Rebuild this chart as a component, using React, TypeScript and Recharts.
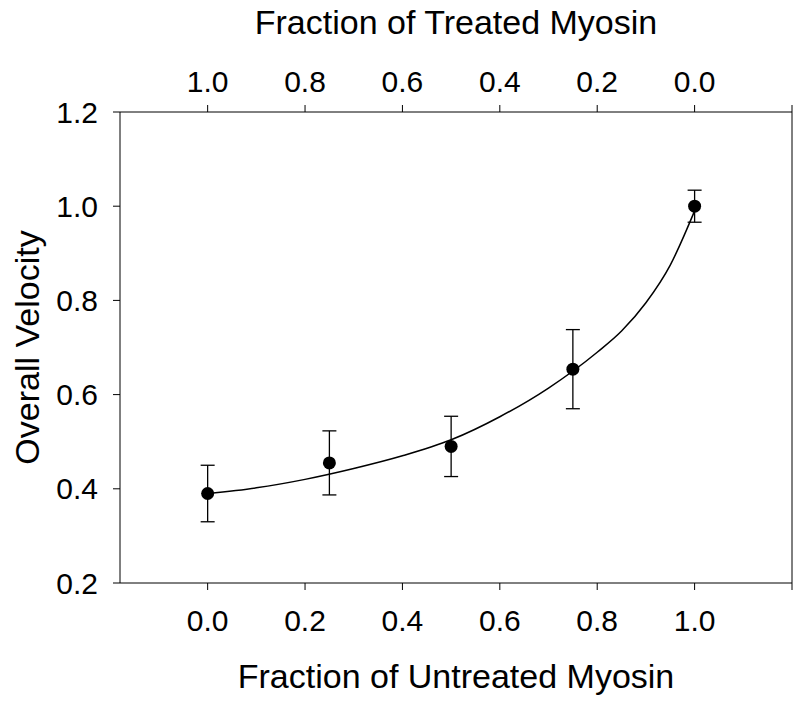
import React from 'react';
import { ComposedChart, XAxis, YAxis, Line, Scatter, ErrorBar, ReferenceLine, Label } from 'recharts';

// measured points
const untreatedFraction = [0, 0.25, 0.5, 0.75, 1.0];
const overallVelocity = [0.39, 0.455, 0.49, 0.654, 1.0];
const velocityError = [0.06, 0.068, 0.064, 0.084, 0.034];

// fitted curve
const fitFraction = [0, 0.1, 0.2, 0.3, 0.4, 0.5, 0.6, 0.7, 0.8, 0.85, 0.9, 0.95, 1.0];
const fitVelocity = [0.39, 0.402, 0.42, 0.443, 0.47, 0.504, 0.553, 0.614, 0.69, 0.735, 0.795, 0.875, 0.99];

const xTicks = [0, 0.2, 0.4, 0.6, 0.8, 1.0, 1.2];
const yTicks = [0.2, 0.4, 0.6, 0.8, 1.0, 1.2];

const points = untreatedFraction.map((x, i) => ({ x, v: overallVelocity[i], err: velocityError[i] }));
const fit = fitFraction.map((x, i) => ({ x, v: fitVelocity[i] }));

const FONT = '"Liberation Sans", Arial, sans-serif';
const tickStyle = { fontSize: 30, fill: '#000', fontFamily: FONT };
const titleStyle = { fontSize: 34, fill: '#000', fontFamily: FONT };

const bottomFmt = (v: number) => (v > 1.1 ? '' : v.toFixed(1));
const topFmt = (v: number) => (v > 1.1 ? '' : Math.abs(1 - v).toFixed(1));

export default function App() {
  return (
    <div style={{ position: 'absolute', left: 0, top: 0, background: '#fff' }}>
      <ComposedChart width={800} height={701} margin={{ top: 8, right: 8, bottom: 8, left: 8 }}>
        <XAxis
          type="number"
          dataKey="x"
          domain={[-0.18, 1.2]}
          ticks={xTicks}
          tickFormatter={bottomFmt}
          allowDataOverflow
          height={110}
          tickSize={7}
          tickMargin={20}
          stroke="#000"
          tick={tickStyle}
        >
          <Label value="Fraction of Untreated Myosin" position="insideBottom" offset={5} style={titleStyle} />
        </XAxis>
        <XAxis
          xAxisId="top"
          orientation="top"
          type="number"
          dataKey="x"
          domain={[-0.18, 1.2]}
          ticks={xTicks}
          tickFormatter={topFmt}
          allowDataOverflow
          height={104}
          tickSize={7}
          tickMargin={13}
          stroke="#000"
          tick={tickStyle}
        >
          <Label value="Fraction of Treated Myosin" position="insideTop" offset={2} style={titleStyle} />
        </XAxis>
        <YAxis
          type="number"
          domain={[0.2, 1.2]}
          ticks={yTicks}
          tickFormatter={(v: number) => v.toFixed(1)}
          width={112}
          tickSize={7}
          tickMargin={15}
          stroke="#000"
          tick={tickStyle}
        >
          <Label
            value="Overall Velocity"
            angle={-90}
            position="insideLeft"
            offset={19}
            style={{ ...titleStyle, textAnchor: 'middle' }}
          />
        </YAxis>
        <ReferenceLine x={1.2} stroke="#000" strokeWidth={1} />
        <Line
          data={fit}
          dataKey="v"
          type="monotone"
          stroke="#000"
          strokeWidth={1.5}
          dot={false}
          activeDot={false}
          isAnimationActive={false}
        />
        <Scatter
          data={points}
          dataKey="v"
          isAnimationActive={false}
          shape={(p: any) => <circle cx={p.cx} cy={p.cy} r={6.5} fill="#000" />}
        >
          <ErrorBar dataKey="err" direction="y" width={7} stroke="#000" strokeWidth={1.3} />
        </Scatter>
      </ComposedChart>
    </div>
  );
}
